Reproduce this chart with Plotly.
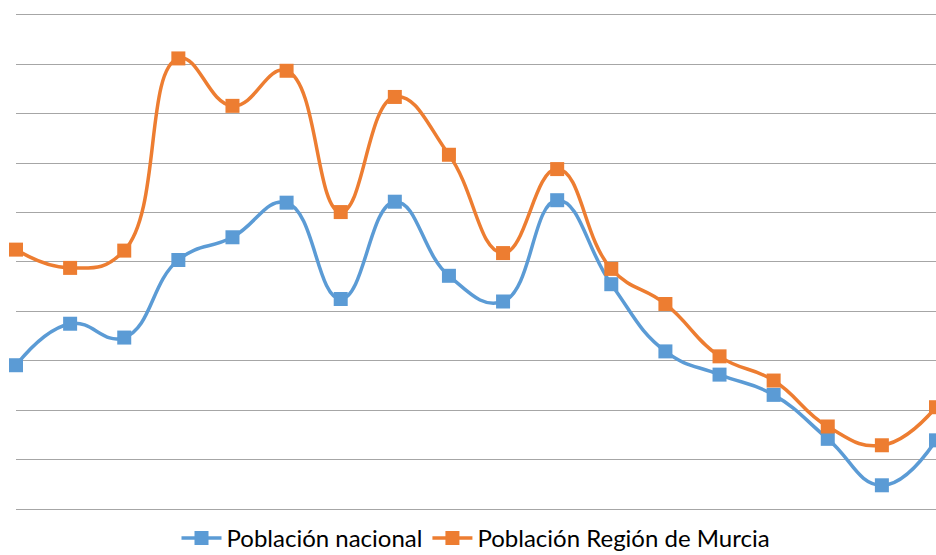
import plotly.graph_objects as go

# 18 periods, no axis labels shown in the original chart
periods = list(range(18))

nacional = [2.91, 3.75, 3.47, 5.04, 5.50, 6.20, 4.25, 6.22, 4.72, 4.20,
            6.25, 4.55, 3.19, 2.72, 2.31, 1.42, 0.48, 1.39]
murcia = [5.25, 4.88, 5.23, 9.12, 8.16, 8.87, 6.01, 8.34, 7.17, 5.18,
          6.88, 4.86, 4.15, 3.09, 2.60, 1.67, 1.29, 2.06]

series_names = ["Población nacional", "Población Región de Murcia"]
colors = ["#5B9BD5", "#ED7D31"]

fig = go.Figure()
for name, vals, col in zip(series_names, [nacional, murcia], colors):
    fig.add_trace(go.Scatter(
        x=periods, y=vals, name=name,
        mode="lines+markers",
        line=dict(color=col, width=3.5, shape="spline", smoothing=1.3),
        marker=dict(symbol="square", size=14, color=col),
        cliponaxis=False,
    ))

fig.update_layout(
    width=936, height=555,
    plot_bgcolor="white", paper_bgcolor="white",
    margin=dict(l=16, r=0, t=10, b=46, autoexpand=False),
    font=dict(family="Lato, Open Sans, sans-serif", size=24, color="#000000"),
    legend=dict(orientation="h", x=0.5, xanchor="center",
                yref="container", y=0.03, yanchor="middle",
                font=dict(size=24), itemwidth=40, tracegroupgap=0),
    showlegend=True,
)
fig.update_xaxes(range=[0, 17], showgrid=False, showticklabels=False,
                 zeroline=False, showline=True, linecolor="#A6A6A6", linewidth=1.3)
fig.update_yaxes(range=[0, 10.1], dtick=1, showgrid=True, gridcolor="#A6A6A6",
                 gridwidth=1.3, showticklabels=False, zeroline=False,
                 showline=False)

# drop the default page margin so the 936x555 figure fills the window
fig.write_html("out.html", config={"displayModeBar": False},
               post_script="document.body.style.margin='0';")
